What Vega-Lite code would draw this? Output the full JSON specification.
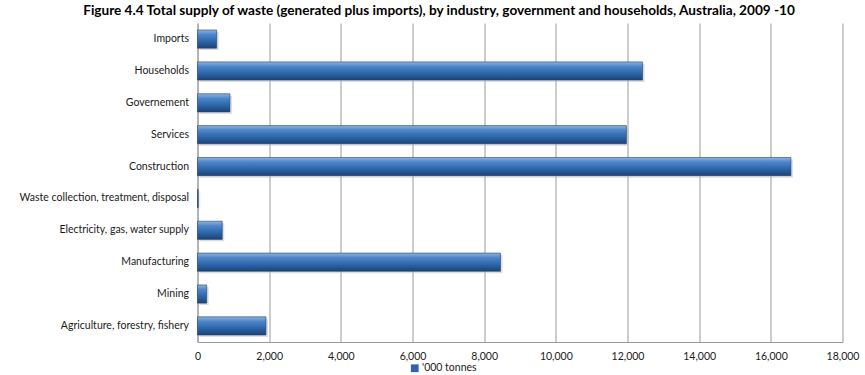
{
  "$schema": "https://vega.github.io/schema/vega-lite/v6.json",
  "width": 645,
  "height": 319,
  "autosize": {"type": "none"},
  "padding": {"left": 197.5, "top": 23, "right": 22, "bottom": 33},
  "background": "white",
  "config": {
    "font": "Lato",
    "view": {"stroke": null}
  },
  "title": {
    "text": "Figure 4.4 Total supply of waste (generated plus imports), by industry, government and households, Australia, 2009 -10",
    "font": "Lato",
    "fontSize": 13.6,
    "fontWeight": "bold",
    "color": "#000000",
    "anchor": "middle",
    "frame": "bounds",
    "offset": 5
  },
  "data": {
    "values": [
      {"category": "Imports", "value": 535, "series": "'000 tonnes"},
      {"category": "Households", "value": 12420, "series": "'000 tonnes"},
      {"category": "Governement", "value": 905, "series": "'000 tonnes"},
      {"category": "Services", "value": 11970, "series": "'000 tonnes"},
      {"category": "Construction", "value": 16560, "series": "'000 tonnes"},
      {"category": "Waste collection, treatment, disposal", "value": 20, "series": "'000 tonnes"},
      {"category": "Electricity, gas, water supply", "value": 690, "series": "'000 tonnes"},
      {"category": "Manufacturing", "value": 8455, "series": "'000 tonnes"},
      {"category": "Mining", "value": 256, "series": "'000 tonnes"},
      {"category": "Agriculture, forestry, fishery", "value": 1910, "series": "'000 tonnes"}
    ]
  },
  "encoding": {
    "y": {
      "field": "category",
      "type": "nominal",
      "sort": null,
      "scale": {"paddingInner": 0.43, "paddingOuter": 0.22},
      "axis": {
        "title": null,
        "labelFontSize": 10.5,
        "labelColor": "#1a1a1a",
        "labelPadding": 9,
        "ticks": false,
        "domainColor": "#9a9a9a",
        "domainWidth": 1,
        "grid": false,
        "labelLimit": 200
      }
    },
    "x": {
      "field": "value",
      "type": "quantitative",
      "scale": {"domain": [0, 18000], "nice": false},
      "axis": {
        "title": null,
        "values": [0, 2000, 4000, 6000, 8000, 10000, 12000, 14000, 16000, 18000],
        "format": ",d",
        "labelFontSize": 10.5,
        "labelColor": "#1a1a1a",
        "labelPadding": 9,
        "labelFlush": false,
        "labelOverlap": false,
        "ticks": false,
        "domainColor": "#9a9a9a",
        "grid": true,
        "gridColor": "#9a9a9a",
        "gridWidth": 1
      }
    }
  },
  "layer": [
    {
      "mark": {"type": "bar", "color": "#bdbdbd", "opacity": 0.5, "xOffset": 2, "yOffset": 2},
      "encoding": {}
    },
    {
      "mark": {
        "type": "bar",
        "stroke": "#1c3f6e",
        "strokeWidth": 0.6,
        "color": {
          "gradient": "linear",
          "x1": 0, "y1": 0, "x2": 0, "y2": 1,
          "stops": [
            {"offset": 0, "color": "#8fb3e0"},
            {"offset": 0.25, "color": "#4f86c8"},
            {"offset": 0.6, "color": "#2e68ad"},
            {"offset": 1, "color": "#1b4377"}
          ]
        }
      },
      "encoding": {}
    },
    {
      "mark": {"type": "square", "opacity": 0, "size": 1},
      "encoding": {
        "color": {
          "field": "series",
          "type": "nominal",
          "scale": {"range": ["#2e64a8"]},
          "legend": {
            "title": null,
            "orient": "none",
            "legendX": 212,
            "legendY": 340,
            "symbolType": "square",
            "symbolSize": 60,
            "symbolOpacity": 1,
            "symbolStrokeWidth": 0,
            "labelFontSize": 10.5,
            "labelColor": "#1a1a1a",
            "labelOffset": 2
          }
        }
      }
    }
  ]
}
